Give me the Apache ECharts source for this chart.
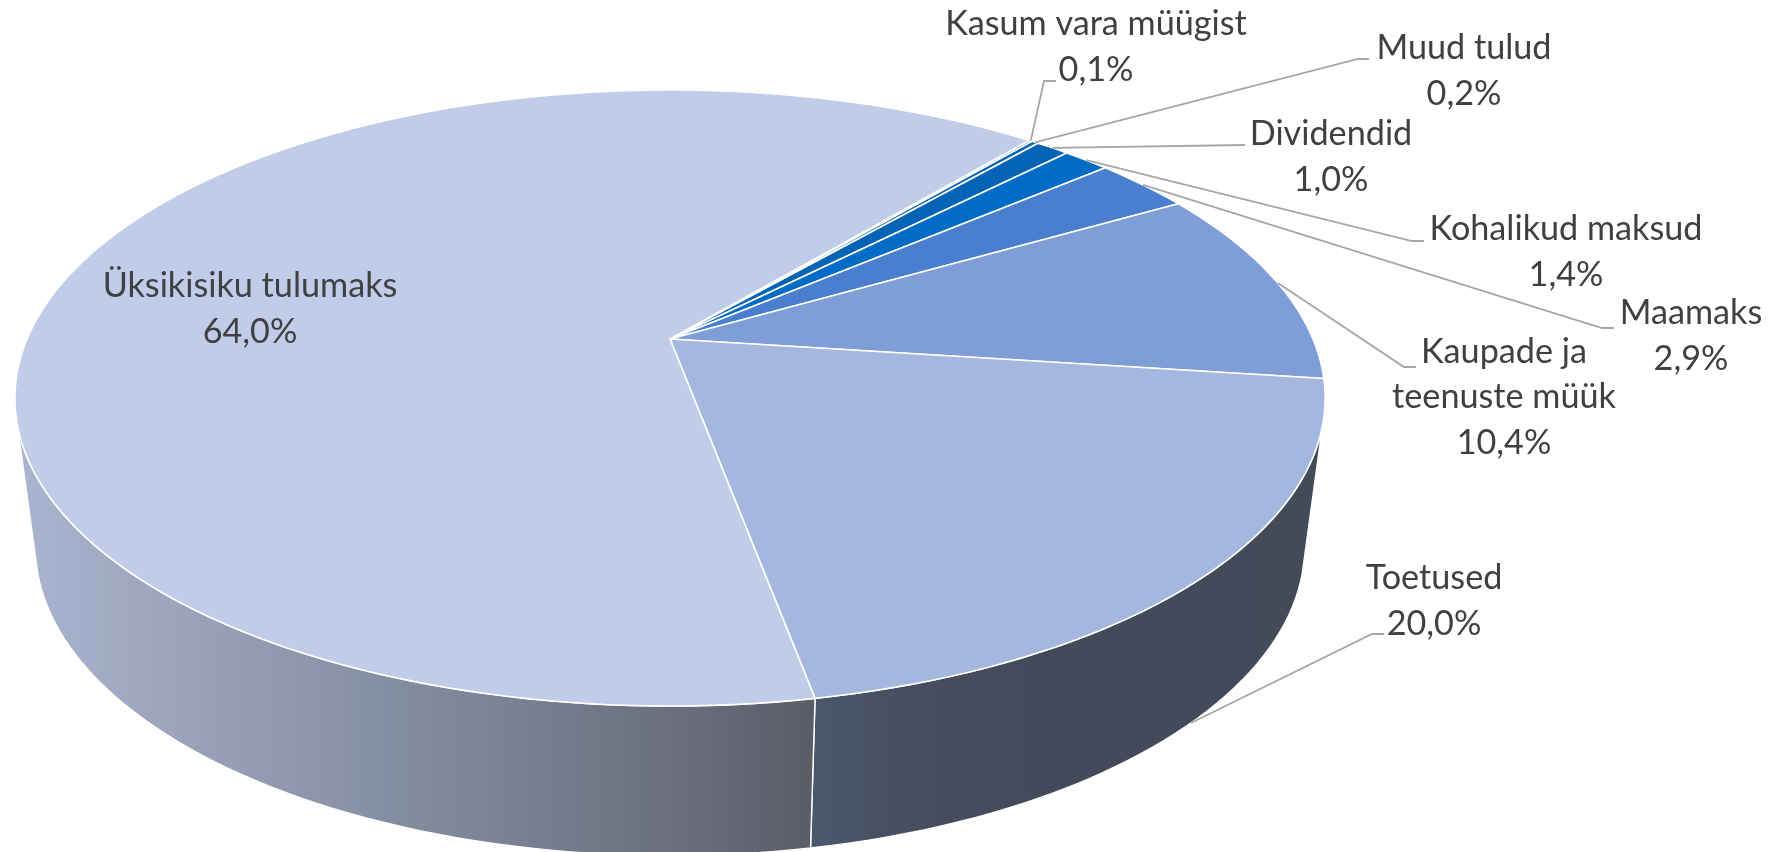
<!DOCTYPE html>
<html>
<head>
<meta charset="utf-8">
<title>Tulud</title>
<script src="https://cdn.jsdelivr.net/npm/echarts@6/dist/echarts.min.js"></script>
<style>
    html, body { margin: 0; padding: 0; background: #fff; }
    #main { width: 1791px; height: 852px; }
</style>
</head>
<body>
<div id="main"></div>
<script>
// slices, clockwise from the first slice angle
var categories = ['Kasum vara müügist', 'Muud tulud', 'Dividendid', 'Kohalikud maksud', 'Maamaks', 'Kaupade ja\nteenuste müük', 'Toetused', 'Üksikisiku tulumaks'];
var shares = [0.1, 0.2, 1.0, 1.4, 2.9, 10.4, 20.0, 64.0];

var sliceColors = ['#1c62ab', '#0563b0', '#0563b6', '#006cc6', '#4a7fcf', '#7f9ed8', '#a3b7df', '#c0cce8'];

// where the label text sits, and the elbow points of its leader line
var labelCenters = [[1096, 47], [1464, 71], [1331, 157], [1566, 252], [1691, 336], [1504, 397], [1434, 601], [250, 309]];
var leaderPoints = [
    [[1044, 81], [1056, 81]],
    [[1358, 59], [1369, 59]],
    [[1245, 145]],
    [[1412, 241], [1424, 241]],
    [[1602, 328], [1614, 328]],
    [[1404, 367], [1416, 367]],
    [[1372, 634], [1384, 634]],
    null
];

// the disc in perspective: a circle point (u, v) goes to
// x = cx + a*u/(1-p*v), y = cy + b*v/(1-p*v)
var firstSliceAngle = 39.85;
var perspective = 0.1916;
var centerX = 670;
var topFace = {cy: 339, a: 643, b: 296.7};
var bottomFace = {cy: 486.6, a: 623, b: 298.4};
var wallFrom = 106, wallTo = 254;

var wallStops = [
    {offset: 0, color: '#aab5cf'},
    {offset: 0.19, color: '#9da4bd'},
    {offset: 0.46, color: '#858fa3'},
    {offset: 0.86, color: '#686c7a'},
    {offset: 1, color: '#5a5c66'}
];
var wallStopsDark = [
    {offset: 0, color: '#4a586d'},
    {offset: 0.2, color: '#484d60'},
    {offset: 0.45, color: '#434a5b'},
    {offset: 1, color: '#434a5a'}
];

var total = shares.reduce(function (a, b) { return a + b; }, 0);
var sliceStart = [];
var running = firstSliceAngle;
shares.forEach(function (s) {
    sliceStart.push(running);
    running += s / total * 360;
});
sliceStart.push(running);

function project(angle, face) {
    var t = angle * Math.PI / 180;
    var u = Math.sin(t), v = -Math.cos(t);
    var w = 1 - perspective * v;
    return [centerX + face.a * u / w, face.cy + face.b * v / w];
}

function arc(from, to, face) {
    var pts = [];
    var n = Math.max(2, Math.ceil((to - from) / 1.5));
    for (var i = 0; i <= n; i++) {
        pts.push(project(from + (to - from) * i / n, face));
    }
    return pts;
}

function renderTop(params) {
    var i = params.dataIndex;
    var pts = [[centerX, topFace.cy]].concat(arc(sliceStart[i], sliceStart[i + 1], topFace));
    return {
        type: 'polygon',
        shape: {points: pts},
        style: {fill: sliceColors[i], stroke: '#fff', lineWidth: 1.6, lineJoin: 'round'}
    };
}

function renderWall(params) {
    var i = params.dataIndex;
    var from = Math.max(sliceStart[i], wallFrom);
    var to = Math.min(sliceStart[i + 1], wallTo);
    if (to <= from) return null;
    var pts = arc(from, to, topFace).concat(arc(from, to, bottomFace).reverse());
    // big slice runs leftwards from the front, toetused rightwards
    var fill = i === 7
        ? new echarts.graphic.LinearGradient(17, 0, 812, 0, wallStops, true)
        : new echarts.graphic.LinearGradient(812, 0, 1300, 0, wallStopsDark, true);
    return {
        type: 'polygon',
        shape: {points: pts},
        style: {fill: fill, stroke: '#fff', lineWidth: 1.4, lineJoin: 'round'}
    };
}

function renderLabel(params) {
    var i = params.dataIndex;
    var children = [];
    if (leaderPoints[i]) {
        var mid = (sliceStart[i] + sliceStart[i + 1]) / 2;
        // toetused leader leaves from the lower rim of the wall
        var anchor = project(mid, i === 6 ? bottomFace : topFace);
        children.push({
            type: 'polyline',
            shape: {points: [anchor].concat(leaderPoints[i])},
            style: {fill: 'none', stroke: '#a6a6a6', lineWidth: 1.8}
        });
    }
    children.push({
        type: 'text',
        x: labelCenters[i][0],
        y: labelCenters[i][1],
        style: {
            text: categories[i] + '\n' + shares[i].toFixed(1).replace('.', ',') + '%',
            fill: '#404040',
            font: '34.2px Lato',
            lineHeight: 45.5,
            align: 'center',
            verticalAlign: 'middle'
        }
    });
    return {type: 'group', children: children};
}

var myChart = echarts.init(document.getElementById('main'));

var rows = shares.map(function (s, i) { return {name: categories[i], value: s}; });

var option = {
    animation: false,
    backgroundColor: '#fff',
    series: [
        {type: 'custom', coordinateSystem: 'none', renderItem: renderWall, data: rows, z: 1},
        {type: 'custom', coordinateSystem: 'none', renderItem: renderTop, data: rows, z: 2},
        {type: 'custom', coordinateSystem: 'none', renderItem: renderLabel, data: rows, z: 3}
    ]
};

myChart.setOption(option);
</script>
</body>
</html>
